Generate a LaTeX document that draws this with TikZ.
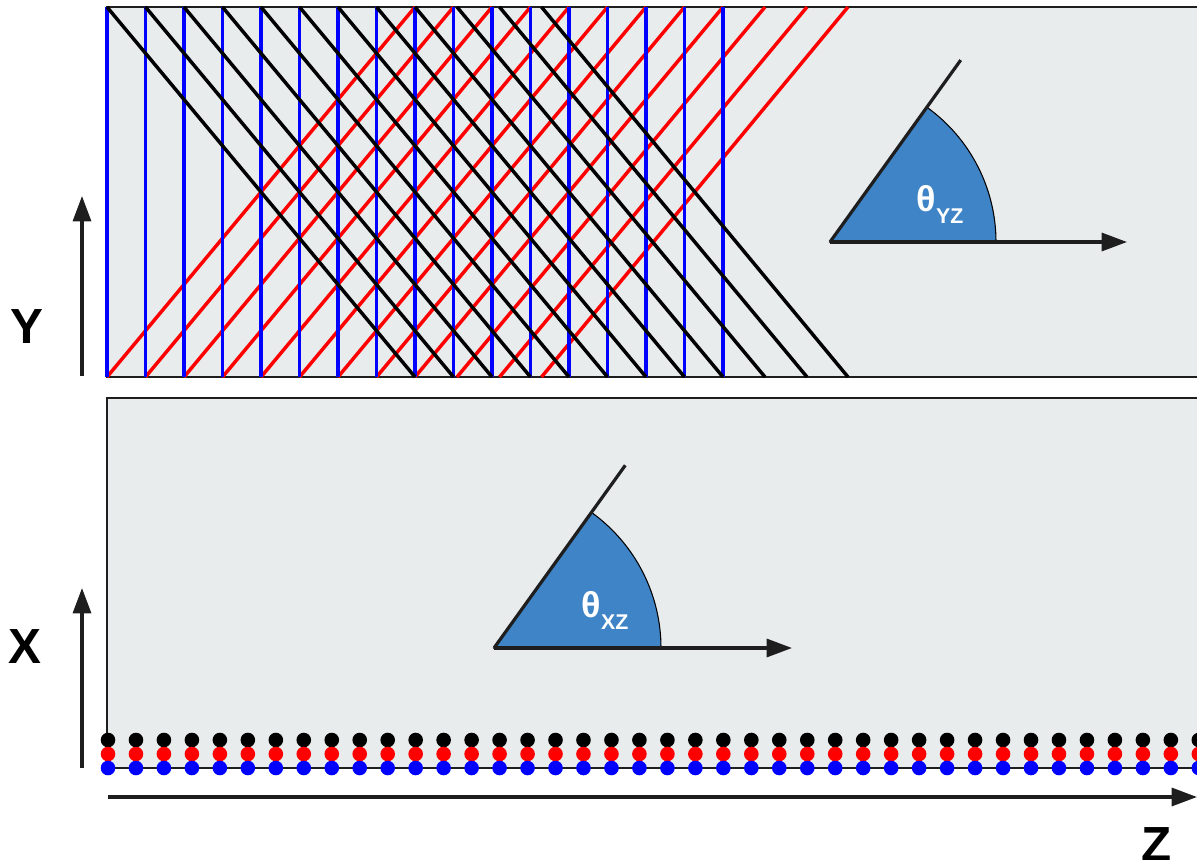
\documentclass[tikz,border=0pt]{standalone}
\usepackage{fontspec}
\setmainfont{Liberation Sans}
\usetikzlibrary{arrows.meta, calc}
\definecolor{panelgray}{RGB}{232, 236, 237}
\definecolor{sectorblue}{RGB}{62, 132, 198}
\definecolor{edgegray}{RGB}{30, 30, 30}
\definecolor{rayblue}{RGB}{0, 0, 255}
\definecolor{rayred}{RGB}{255, 0, 0}
\newcommand{\axisfont}{\fontsize{37}{40}\selectfont\bfseries}
\newcommand{\anglelabel}[1]{\bfseries\fontsize{27}{30}\selectfont θ\raisebox{-9pt}{\fontsize{16}{18}\selectfont #1}}

\begin{document}
\begin{tikzpicture}[x=0.75pt, y=-0.75pt,
        panel/.style={fill=panelgray, draw=edgegray, line width=1.4pt},
        blueray/.style={draw=rayblue, line width=2.6pt},
        redray/.style={draw=rayred, line width=2.6pt},
        blackray/.style={draw=black, line width=2.6pt},
        axis/.style={draw=edgegray, line width=2.4pt, -{Triangle[length=19pt, width=13.5pt]}},
        sector/.style={fill=sectorblue, draw=black, line width=0.8pt},
        leg/.style={draw=edgegray, line width=2.4pt},
        axislabel/.style={font=\axisfont, anchor=base, inner sep=0pt},
        thetalabel/.style={text=white, inner sep=0pt},
        dot/.style={fill=#1}]
        \clip (0,0) rectangle (1197,860);

        % panels
        \draw [panel] (107,7) rectangle (1215,377);
        \draw [panel] (107,398) rectangle (1215,768);

        % rays in the Y-Z panel
        \foreach \u/\v in {107/415, 145.5/453.5, 184/492, 222.5/530.5, 261/569, 299.5/607.5,
                338/646, 376.5/684.5, 415/723, 457/765, 499.5/807, 541.5/848}
            \draw [redray] (\u,377) -- (\v,7);
        \foreach \k in {0,...,16}
            \draw [blueray] (107+\k*38.5,7) -- (107+\k*38.5,377);
        \foreach \u/\v in {107/415, 145.5/453.5, 184/492, 222.5/530.5, 261/569, 299.5/607.5,
                338/646, 376.5/684.5, 415/723, 457/765, 499.5/807, 541.5/848}
            \draw [blackray] (\u,7) -- (\v,377);

        % angle in Y-Z
        \coordinate (yzvertex) at (830,242);
        \coordinate (yzhead) at (1127,242);
        \coordinate (yzray) at ($(yzvertex)+(-54.3:224)$);
        \filldraw [sector] (yzvertex) -- ++(0:166) arc [start angle=0, end angle=-54.3, radius=166] -- cycle;
        \draw [leg] (yzvertex) -- (yzray);
        \draw [axis] (yzvertex) -- (yzhead);
        \node [thetalabel] (yztheta) at (940,204) {\anglelabel{YZ}};

        % angle in X-Z
        \coordinate (xzvertex) at (494,648);
        \coordinate (xzhead) at (792,648);
        \coordinate (xzray) at ($(xzvertex)+(-54.3:225)$);
        \filldraw [sector] (xzvertex) -- ++(0:167) arc [start angle=0, end angle=-54.3, radius=167] -- cycle;
        \draw [leg] (xzvertex) -- (xzray);
        \draw [axis] (xzvertex) -- (xzhead);
        \node [thetalabel] (xztheta) at (605,610) {\anglelabel{XZ}};

        % source points
        \foreach \k in {0,...,39} {
            \fill [dot=black] (108+\k*27.97,740) circle [radius=7.3];
            \fill [dot=rayred] (108+\k*27.97,754) circle [radius=7.3];
            \fill [dot=rayblue] (108+\k*27.97,768) circle [radius=7.3];
        }

        % axes
        \coordinate (ytail) at (82,376);
        \coordinate (yhead) at (82,196);
        \coordinate (xtail) at (82,768);
        \coordinate (xhead) at (82,588);
        \coordinate (ztail) at (108,797);
        \coordinate (zhead) at (1197,797);
        \draw [axis] (ytail) -- (yhead);
        \draw [axis] (xtail) -- (xhead);
        \draw [axis] (ztail) -- (zhead);
        \node [axislabel] (ylabel) at (27,343) {Y};
        \node [axislabel] (xlabel) at (25,663) {X};
        \node [axislabel] (zlabel) at (1157,861) {Z};
    \end{tikzpicture}
\end{document}
